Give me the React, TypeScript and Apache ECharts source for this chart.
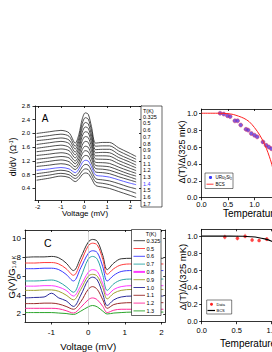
import React, { useEffect, useRef } from 'react';
import * as echarts from 'echarts';

const FONT = '"Liberation Sans", Arial, Helvetica, sans-serif';

// ---------- Panel A : dI/dV spectra ----------
const voltA = [-2.05, -1.5, -1.0, -0.65, -0.38, -0.22, -0.08, 0.05, 0.18, 0.32, 0.5, 0.8, 1.1, 1.5, 1.9, 2.25];
const tempsA = ['0.325', '0.5', '0.6', '0.7', '0.8', '0.9', '1.0', '1.1', '1.2', '1.3', '1.4', '1.5', '1.6', '1.7'];
const a0325 = [2.00, 2.05, 2.09, 2.02, 1.72, 1.98, 2.42, 2.60, 2.56, 2.20, 1.72, 1.74, 1.74, 1.58, 1.45, 1.33];
const a05 = [1.89, 1.94, 1.98, 1.92, 1.63, 1.88, 2.29, 2.46, 2.42, 2.09, 1.63, 1.64, 1.64, 1.49, 1.36, 1.25];
const a06 = [1.79, 1.83, 1.87, 1.81, 1.55, 1.78, 2.17, 2.32, 2.28, 1.96, 1.53, 1.54, 1.54, 1.39, 1.27, 1.17];
const a07 = [1.68, 1.73, 1.77, 1.71, 1.46, 1.68, 2.04, 2.19, 2.15, 1.85, 1.44, 1.45, 1.44, 1.30, 1.19, 1.08];
const a08 = [1.57, 1.62, 1.66, 1.60, 1.38, 1.58, 1.92, 2.05, 2.02, 1.74, 1.35, 1.35, 1.34, 1.21, 1.10, 1.00];
const a09 = [1.47, 1.51, 1.55, 1.50, 1.29, 1.48, 1.79, 1.91, 1.88, 1.62, 1.26, 1.25, 1.24, 1.12, 1.01, 0.92];
const a10 = [1.36, 1.40, 1.44, 1.39, 1.20, 1.37, 1.66, 1.77, 1.74, 1.50, 1.16, 1.15, 1.13, 1.02, 0.92, 0.84];
const a11 = [1.25, 1.29, 1.33, 1.29, 1.12, 1.27, 1.53, 1.63, 1.60, 1.38, 1.07, 1.05, 1.03, 0.93, 0.83, 0.76];
const a12 = [1.14, 1.19, 1.23, 1.18, 1.03, 1.17, 1.41, 1.50, 1.47, 1.27, 0.98, 0.96, 0.93, 0.84, 0.75, 0.67];
const a13 = [1.04, 1.08, 1.12, 1.08, 0.95, 1.07, 1.28, 1.36, 1.34, 1.14, 0.88, 0.86, 0.83, 0.74, 0.66, 0.59];
const a14 = [0.93, 0.97, 1.01, 0.97, 0.86, 0.97, 1.15, 1.22, 1.20, 1.03, 0.79, 0.76, 0.73, 0.65, 0.57, 0.51];
const a15 = [0.83, 0.88, 0.93, 0.89, 0.77, 0.87, 1.03, 1.10, 1.08, 0.92, 0.69, 0.65, 0.62, 0.54, 0.45, 0.39];
const a16 = [0.74, 0.79, 0.84, 0.80, 0.69, 0.77, 0.91, 0.97, 0.95, 0.80, 0.59, 0.55, 0.51, 0.42, 0.34, 0.26];
const a17 = [0.64, 0.70, 0.76, 0.72, 0.60, 0.68, 0.80, 0.85, 0.83, 0.69, 0.49, 0.44, 0.40, 0.31, 0.22, 0.14];
const curvesA = [a0325, a05, a06, a07, a08, a09, a10, a11, a12, a13, a14, a15, a16, a17];
const ticksAX = [-2, -1, 0, 1, 2];
const ticksAY = [0.4, 0.8, 1.2, 1.6, 2.0, 2.4, 2.8];

// ---------- Panel B : gap vs T (URu2Si2) ----------
const tempB = [0.35, 0.42, 0.49, 0.54, 0.63, 0.68, 0.74, 0.84, 0.88, 0.94, 1.0, 1.05, 1.16, 1.22, 1.27, 1.32];
const gapB = [1.0, 0.99, 0.97, 0.96, 0.91, 0.91, 0.86, 0.81, 0.8, 0.76, 0.74, 0.72, 0.66, 0.62, 0.6, 0.58];
const bcsTB = [0, 0.3, 0.5, 0.6, 0.7, 0.8, 0.9, 1.0, 1.1, 1.2, 1.3, 1.35, 1.4];
const bcsB = [1.0, 1.0, 0.995, 0.985, 0.965, 0.94, 0.9, 0.83, 0.74, 0.62, 0.45, 0.33, 0.0];
const ticksBX = [0, 0.5, 1.0];

// ---------- Panel C : normalised conductance ----------
const voltC = [-1.72, -1.45, -1.2, -1.0, -0.8, -0.6, -0.4, -0.2, 0.0, 0.12, 0.25, 0.4, 0.52, 0.7, 0.9, 1.2, 1.6, 2.05];
const tempsC = ['0.325', '0.5', '0.6', '0.7', '0.8', '0.9', '1.0', '1.1', '1.2', '1.3'];
const colorsC = ['#333333', '#ff3a3a', '#3a3aff', '#2aa5a5', '#ff3aff', '#a0a030', '#2a2a9a', '#9a2a2a', '#ff2a9a', '#2aa52a'];
const c0325 = [8.0, 8.05, 8.05, 8.1, 7.95, 7.4, 6.6, 8.0, 9.6, 9.9, 9.7, 8.2, 6.7, 7.4, 7.85, 7.9, 7.9, 7.9];
const c05 = [7.4, 7.4, 7.45, 7.45, 7.3, 6.8, 6.1, 7.5, 9.2, 9.5, 9.3, 7.8, 6.2, 6.8, 7.2, 7.3, 7.3, 7.3];
const c06 = [6.8, 6.8, 6.85, 6.85, 6.7, 6.2, 5.5, 6.9, 8.4, 8.7, 8.5, 7.0, 5.5, 6.1, 6.5, 6.6, 6.6, 6.6];
const c07 = [5.5, 5.5, 5.55, 5.6, 5.4, 4.9, 4.3, 5.9, 7.8, 8.1, 7.8, 6.1, 4.5, 5.2, 5.6, 5.7, 5.7, 5.7];
const c08 = [4.95, 4.95, 5.0, 5.0, 4.85, 4.5, 3.9, 5.0, 6.4, 6.7, 6.5, 5.2, 4.0, 4.6, 4.9, 5.0, 5.0, 5.0];
const c09 = [4.5, 4.5, 4.55, 4.55, 4.4, 4.0, 3.5, 4.6, 6.0, 6.2, 6.0, 4.8, 3.6, 4.2, 4.5, 4.6, 4.6, 4.6];
const c10 = [3.7, 3.75, 3.8, 4.2, 3.7, 3.4, 2.8, 4.0, 5.6, 5.9, 5.6, 4.1, 2.9, 3.5, 3.8, 3.9, 3.9, 3.9];
const c11 = [3.1, 3.1, 3.15, 3.15, 3.05, 2.8, 2.5, 3.3, 4.6, 4.9, 4.6, 3.5, 2.6, 3.0, 3.15, 3.2, 3.2, 3.2];
const c12 = [2.6, 2.6, 2.6, 2.6, 2.55, 2.35, 2.1, 2.7, 3.5, 3.7, 3.5, 2.8, 2.15, 2.4, 2.5, 2.5, 2.5, 2.5];
const c13 = [2.15, 2.15, 2.15, 2.15, 2.1, 2.05, 1.95, 2.3, 2.75, 2.9, 2.75, 2.3, 2.0, 2.1, 2.15, 2.2, 2.2, 2.2];
const curvesC = [c0325, c05, c06, c07, c08, c09, c10, c11, c12, c13];
const ticksCX = [-1, 0, 1, 2];
const ticksCY = [2, 4, 6, 8, 10];

// ---------- Panel D : gap vs T (second data set) ----------
const tempD = [0.33, 0.51, 0.62, 0.72, 0.82, 0.93];
const gapD = [0.99, 0.975, 1.0, 0.955, 0.95, 0.965];
const errD = [0.03, 0.03, 0.03, 0.025, 0.02, 0.025];
const bcsTD = [0, 0.4, 0.6, 0.7, 0.8, 0.9, 1.0, 1.1, 1.2, 1.3, 1.4];
const bcsD = [1.0, 1.0, 0.998, 0.993, 0.985, 0.968, 0.94, 0.9, 0.85, 0.78, 0.69];

const AX = { color: '#000', width: 0.8 };

function xPair(grid: number, min: number, max: number, labelOpt: any, tickOpt: any, interval?: number) {
  return [
    {
      gridIndex: grid, type: 'value', min, max, interval, position: 'bottom',
      axisLine: { show: true, onZero: false, lineStyle: AX },
      axisTick: { show: true, inside: false, length: 2.5, lineStyle: AX, ...tickOpt },
      axisLabel: { color: '#000', fontFamily: FONT, hideOverlap: false, ...labelOpt },
      splitLine: { show: false },
    },
    {
      gridIndex: grid, type: 'value', min, max, interval, position: 'top',
      axisLine: { show: true, onZero: false, lineStyle: AX },
      axisTick: { show: true, inside: true, length: 2, lineStyle: AX, ...tickOpt },
      axisLabel: { show: false },
      splitLine: { show: false },
    },
  ];
}
function yPair(grid: number, min: number, max: number, labelOpt: any, tickOpt: any, interval?: number) {
  return [
    {
      gridIndex: grid, type: 'value', min, max, interval, position: 'left',
      axisLine: { show: true, onZero: false, lineStyle: AX },
      axisTick: { show: true, inside: false, length: 2.5, lineStyle: AX, ...tickOpt },
      axisLabel: { color: '#000', fontFamily: FONT, ...labelOpt },
      splitLine: { show: false },
    },
    {
      gridIndex: grid, type: 'value', min, max, interval, position: 'right',
      axisLine: { show: true, onZero: false, lineStyle: AX },
      axisTick: { show: true, inside: true, length: 2, lineStyle: AX, ...tickOpt },
      axisLabel: { show: false },
      splitLine: { show: false },
    },
  ];
}

function txt(x: number, y: number, text: string, size: number, extra: any = {}, rot = 0): any {
  return {
    type: 'text', x, y, rotation: rot, z: 20,
    style: {
      text, fontSize: size, fontFamily: FONT, fill: extra.fill || '#000',
      align: extra.align || 'center', verticalAlign: 'middle', rich: extra.rich,
    },
  };
}

export default function App() {
  const ref = useRef<HTMLDivElement>(null);
  useEffect(() => {
    if (!ref.current) return;
    const chart = echarts.init(ref.current, undefined, { renderer: 'svg' });

    const seriesA = curvesA.map((vals, i) => ({
      type: 'line', xAxisIndex: 0, yAxisIndex: 0, smooth: 0.3, symbol: 'none',
      data: voltA.map((v, j) => [v, vals[j]]),
      lineStyle: { color: i === 10 ? '#3a3aff' : '#222', width: 0.8 },
    }));
    const seriesC = curvesC.map((vals, i) => ({
      type: 'line', xAxisIndex: 4, yAxisIndex: 4, smooth: 0.35, symbol: 'none',
      data: voltC.map((v, j) => [v, vals[j]]),
      lineStyle: { color: colorsC[i], width: 1 },
      markLine: i === 0 ? {
        silent: true, symbol: 'none', label: { show: false },
        lineStyle: { color: '#bbbbbb', width: 0.6, type: 'solid' },
        data: [{ xAxis: 0 }],
      } : undefined,
    }));

    const graphics: any[] = [];
    // Panel A legend
    graphics.push({ type: 'rect', z: 10, shape: { x: 141, y: 106, width: 21, height: 101 }, style: { fill: '#fff', stroke: '#000', lineWidth: 0.6 } });
    graphics.push(txt(143, 110.5, 'T(K)', 5.5, { align: 'left' }));
    tempsA.forEach((t, i) => graphics.push(txt(143, 116.7 + 6.7 * i, t, 5.5, { align: 'left', fill: i === 10 ? '#3a3aff' : '#000' })));
    // Panel C legend
    graphics.push({ type: 'rect', z: 10, shape: { x: 131.5, y: 229.5, width: 29.5, height: 86 }, style: { fill: '#fff', stroke: '#000', lineWidth: 0.6 } });
    graphics.push(txt(151, 233.5, 'T(K)', 5.5));
    tempsC.forEach((t, i) => {
      const y = 240.7 + 7.8 * i;
      graphics.push({ type: 'line', z: 20, shape: { x1: 133.5, y1: y, x2: 145, y2: y }, style: { stroke: colorsC[i], lineWidth: i === 4 ? 2 : 0.9 } });
      graphics.push(txt(146.5, y, t, 5.5, { align: 'left' }));
    });
    // Panel B legend
    graphics.push({ type: 'rect', z: 10, shape: { x: 205, y: 173, width: 28, height: 15.5 }, style: { fill: '#fff', stroke: '#000', lineWidth: 0.5 } });
    graphics.push({ type: 'circle', z: 20, shape: { cx: 210.5, cy: 177.5, r: 1.6 }, style: { fill: '#3a3aff' } });
    graphics.push(txt(215.5, 177.5, 'URu{s|2}Si{s|2}', 4.5, { align: 'left', rich: { s: { fontSize: 3, fontFamily: FONT, verticalAlign: 'bottom', lineHeight: 3 } } }));
    graphics.push({ type: 'line', z: 20, shape: { x1: 206.5, y1: 184.2, x2: 213.5, y2: 184.2 }, style: { stroke: '#ff2020', lineWidth: 0.9 } });
    graphics.push(txt(215.5, 184.2, 'BCS', 4.5, { align: 'left' }));
    // Panel D legend
    graphics.push({ type: 'rect', z: 10, shape: { x: 206.7, y: 300, width: 25, height: 14 }, style: { fill: '#fff', stroke: '#000', lineWidth: 0.5 } });
    graphics.push({ type: 'circle', z: 20, shape: { cx: 211.5, cy: 304.3, r: 1.5 }, style: { fill: '#ff2020' } });
    graphics.push(txt(216.5, 304.3, 'Data', 4, { align: 'left' }));
    graphics.push({ type: 'line', z: 20, shape: { x1: 207.5, y1: 310.5, x2: 215, y2: 310.5 }, style: { stroke: '#000', lineWidth: 1.2 } });
    graphics.push(txt(216.5, 310.5, 'BCS', 4, { align: 'left' }));
    // Panel letters & axis titles
    graphics.push(txt(45, 118.3, 'A', 10));
    graphics.push(txt(47.7, 242.7, 'C', 10.5));
    graphics.push(txt(13, 157, 'dI/dV (\u03a9{sup|-1})', 8.5, { rich: { sup: { fontSize: 5, fontFamily: FONT, verticalAlign: 'top', lineHeight: 5 } } }, Math.PI / 2));
    graphics.push(txt(85, 213, 'Voltage (mV)', 8));
    graphics.push(txt(182, 152, '\u0394(T)/\u0394(325 mK)', 9, {}, Math.PI / 2));
    graphics.push(txt(223, 213.5, 'Temperature (K)', 10, { align: 'left' }));
    graphics.push(txt(11.5, 277, 'G(V)/G{s|1.6 K}', 9.5, { rich: { s: { fontSize: 5.5, fontFamily: FONT, verticalAlign: 'bottom', lineHeight: 5 } } }, Math.PI / 2));
    graphics.push(txt(88.3, 346, 'Voltage (mV)', 9.7));
    graphics.push(txt(182, 277, '\u0394(T)/\u0394(325 mK)', 9.5, {}, Math.PI / 2));
    graphics.push(txt(220, 343.5, 'Temperature (K)', 10, { align: 'left' }));

    const option: any = {
      animation: false,
      backgroundColor: '#fff',
      textStyle: { fontFamily: FONT },
      grid: [
        { left: 35, top: 106, width: 106, height: 94.5, outerBoundsMode: 'none', containLabel: false },
        { left: 201.5, top: 109, width: 159, height: 88.7, outerBoundsMode: 'none', containLabel: false },
        { left: 25, top: 230, width: 140.2, height: 92, outerBoundsMode: 'none', containLabel: false },
        { left: 201.7, top: 229.3, width: 98, height: 92.4, outerBoundsMode: 'none', containLabel: false },
      ],
      xAxis: [
        ...xPair(0, -2.12, 2.46, { customValues: ticksAX, fontSize: 6, margin: 3 }, { customValues: ticksAX }),
        ...xPair(1, 0, 3, { customValues: ticksBX, fontSize: 7.5, margin: 3, formatter: (v: number) => v.toFixed(1) }, {}, 0.5),
        ...xPair(2, -1.72, 2.1, { customValues: ticksCX, fontSize: 8, margin: 6 }, { customValues: ticksCX }),
        ...xPair(3, 0, 1.4, { fontSize: 7.5, margin: 5, formatter: (v: number) => v.toFixed(1) }, {}, 0.5),
      ],
      yAxis: [
        ...yPair(0, 0.05, 2.8, { customValues: ticksAY, fontSize: 6, margin: 5, formatter: (v: number) => v.toFixed(1) }, { customValues: ticksAY }),
        ...yPair(1, 0, 1.05, { fontSize: 7.5, margin: 4, formatter: (v: number) => v.toFixed(1) }, {}, 0.2),
        ...yPair(2, 1.15, 10.9, { customValues: ticksCY, fontSize: 8, margin: 4 }, { customValues: ticksCY }),
        ...yPair(3, 0, 1.08, { fontSize: 7.5, margin: 4, formatter: (v: number) => v.toFixed(1) }, {}, 0.2),
      ],
      graphic: { elements: graphics },
      series: [
        ...seriesA,
        {
          type: 'line', xAxisIndex: 2, yAxisIndex: 2, symbol: 'none', smooth: 0.3,
          data: bcsTB.map((t, i) => [t, bcsB[i]]),
          lineStyle: { color: '#ff2020', width: 1 },
        },
        {
          type: 'scatter', xAxisIndex: 2, yAxisIndex: 2, symbolSize: 4,
          data: tempB.map((t, i) => [t, gapB[i]]),
          itemStyle: { color: '#5a32d8', borderColor: '#e0305a', borderWidth: 0.6 },
        },
        ...seriesC,
        {
          type: 'line', xAxisIndex: 6, yAxisIndex: 6, symbol: 'none', smooth: 0.3,
          data: bcsTD.map((t, i) => [t, bcsD[i]]),
          lineStyle: { color: '#000', width: 1.1 },
        },
        {
          type: 'custom', xAxisIndex: 6, yAxisIndex: 6,
          data: tempD.map((t, i) => [t, gapD[i], errD[i]]),
          renderItem: (_p: any, api: any) => {
            const t = api.value(0), v = api.value(1), e = api.value(2);
            const a = api.coord([t, v - e]);
            const b = api.coord([t, v + e]);
            return { type: 'line', shape: { x1: a[0], y1: a[1], x2: b[0], y2: b[1] }, style: { stroke: '#ff8080', lineWidth: 0.6 } };
          },
        },
        {
          type: 'scatter', xAxisIndex: 6, yAxisIndex: 6, symbolSize: 3.5,
          data: tempD.map((t, i) => [t, gapD[i]]),
          itemStyle: { color: '#ff2020' },
        },
      ],
    };
    chart.setOption(option);
    return () => chart.dispose();
  }, []);
  return <div ref={ref} style={{ position: 'absolute', left: 0, top: 0, width: 272, height: 352, background: '#fff' }} />;
}
